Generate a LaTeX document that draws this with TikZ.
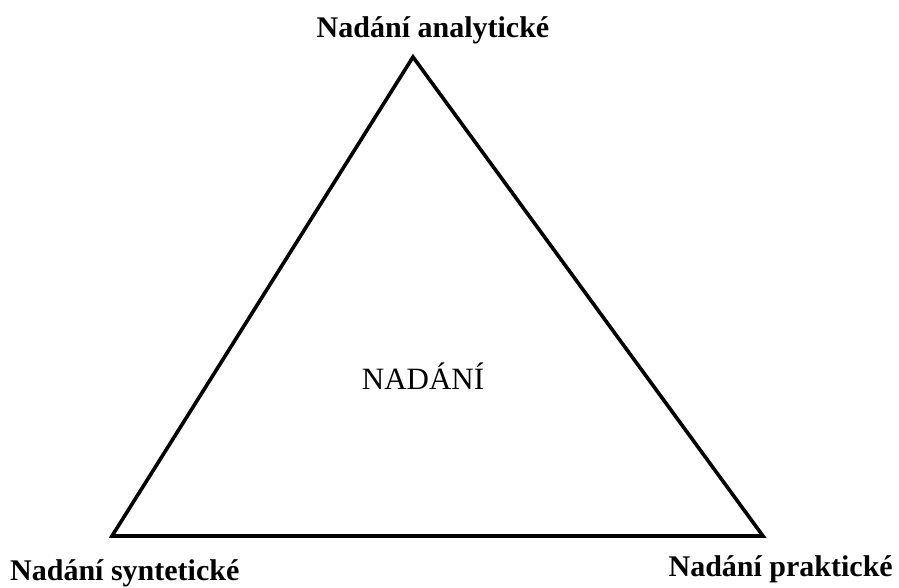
\documentclass[tikz,border=0pt]{standalone}
\usepackage{fontspec}
\setmainfont{Liberation Serif}
\begin{document}
\begin{tikzpicture}[x=1pt,y=-1pt,
  lbl/.style={inner sep=0pt,font=\fontsize{30}{34}\selectfont\bfseries},
  mid/.style={inner sep=0pt,font=\fontsize{31}{36}\selectfont}]
\fill[white] (0,0) rectangle (899,587);
\useasboundingbox (0,0) rectangle (899,587);
\coordinate (A) at (413,57);
\coordinate (B) at (112,536);
\coordinate (C) at (763,536);
\draw[line width=3.6pt,line join=miter] (A) -- (B) -- (C) -- cycle;
\node[lbl,anchor=base] (ta) at (433,37) {Nadání analytické};
\node[lbl,anchor=base west] (tb) at (10,580) {Nadání syntetické};
\node[lbl,anchor=base east] (tc) at (893,576) {Nadání praktické};
\node[mid,anchor=base] (tm) at (423,389) {NADÁNÍ};
\end{tikzpicture}
\end{document}
